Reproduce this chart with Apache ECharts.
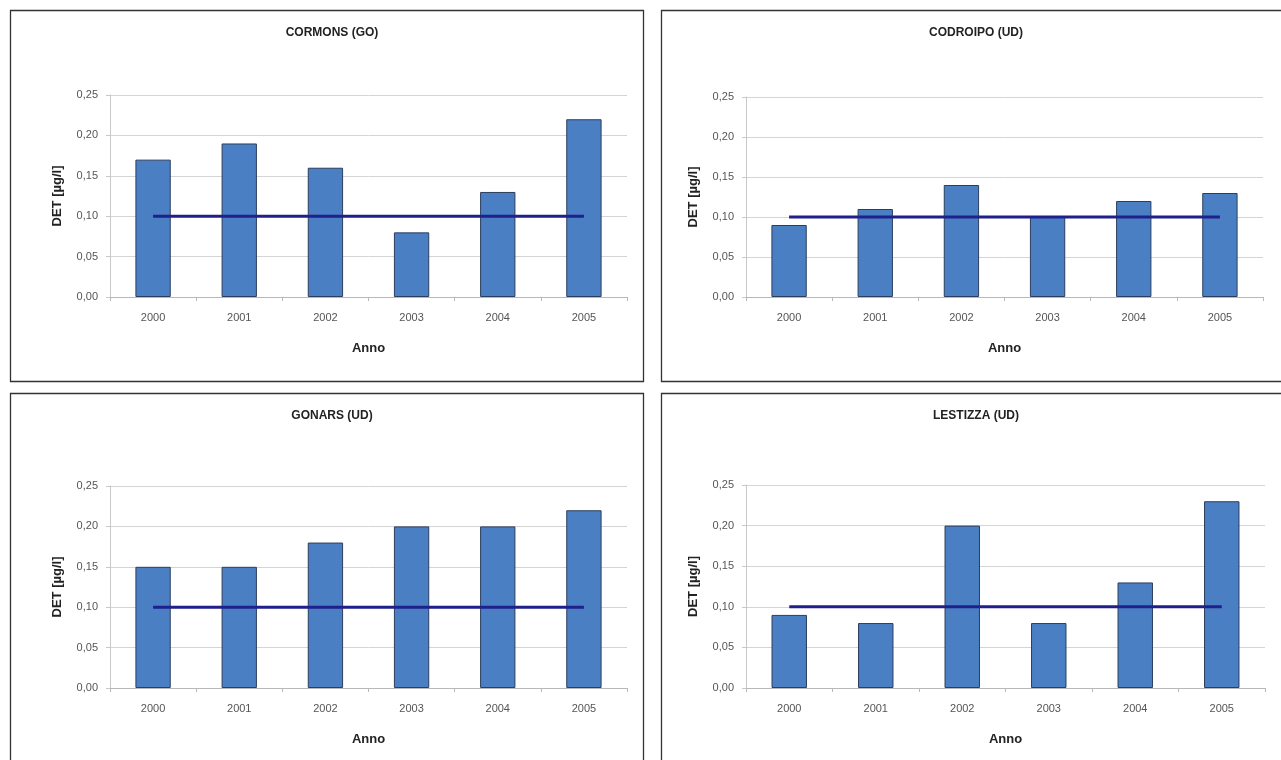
<!doctype html>
<html>
<head>
<meta charset="utf-8">
<title>DET - concentrazioni</title>
<script src="https://cdn.jsdelivr.net/npm/echarts@6/dist/echarts.min.js"></script>
<style>
  html, body { margin: 0; padding: 0; background: #fff; }
  #main { width: 1281px; height: 760px; }
</style>
</head>
<body>
<div id="main"></div>
<script>
// dati
var anni = ['2000', '2001', '2002', '2003', '2004', '2005'];
var stazioni = ['CORMONS (GO)', 'CODROIPO (UD)', 'GONARS (UD)', 'LESTIZZA (UD)'];
var cormons  = [0.17, 0.19, 0.16, 0.08, 0.13, 0.22];
var codroipo = [0.09, 0.11, 0.14, 0.10, 0.12, 0.13];
var gonars   = [0.15, 0.15, 0.18, 0.20, 0.20, 0.22];
var lestizza = [0.09, 0.08, 0.20, 0.08, 0.13, 0.23];
var limite   = [0.10, 0.10, 0.10, 0.10, 0.10, 0.10];

var valori = [cormons, codroipo, gonars, lestizza];

// posizione dei pannelli e delle aree di disegno
var pannelli = [
    { x: 10,  y: 10,  w: 633, h: 371 },
    { x: 661, y: 10,  w: 630, h: 371 },
    { x: 10,  y: 393, w: 633, h: 380 },
    { x: 661, y: 393, w: 630, h: 380 }
];
var aree = [
    { left: 110, top: 95,  width: 517, height: 202 },
    { left: 746, top: 97,  width: 517, height: 200 },
    { left: 110, top: 486, width: 517, height: 202 },
    { left: 746, top: 485, width: 519, height: 203 }
];
var centriTitolo = [327, 971, 327, 971];

var font = 'Liberation Sans, Arial, sans-serif';

var myChart = echarts.init(document.getElementById('main'));

var title = [], grid = [], xAxis = [], yAxis = [], series = [], graphic = [];

for (var i = 0; i < 4; i++) {
    var p = pannelli[i];
    graphic.push({
        type: 'rect',
        shape: { x: p.x + 0.5, y: p.y + 0.5, width: p.w, height: p.h },
        style: { fill: 'none', stroke: '#333', lineWidth: 1.3 },
        silent: true
    });
    title.push({
        text: stazioni[i],
        left: centriTitolo[i],
        top: p.y + 12,
        textAlign: 'center',
        textStyle: { fontFamily: font, fontSize: 12, fontWeight: 'bold', color: '#222' }
    });
    grid.push(aree[i]);
    xAxis.push({
        type: 'category',
        gridIndex: i,
        data: anni,
        name: 'Anno',
        nameLocation: 'middle',
        nameGap: 45,
        nameTextStyle: { fontFamily: font, fontSize: 13, fontWeight: 'bold', color: '#222' },
        axisLine: { lineStyle: { color: '#b8b8b8' } },
        axisTick: { show: true, length: 4, lineStyle: { color: '#b8b8b8' } },
        axisLabel: { fontFamily: font, fontSize: 11, color: '#555', margin: 15 }
    });
    yAxis.push({
        type: 'value',
        gridIndex: i,
        min: 0,
        max: 0.25,
        interval: 0.05,
        name: 'DET [µg/l]',
        nameLocation: 'middle',
        nameGap: 46,
        nameRotate: 90,
        nameTextStyle: { fontFamily: font, fontSize: 13, fontWeight: 'bold', color: '#222' },
        axisLine: { show: true, lineStyle: { color: '#c8c8c8' } },
        axisTick: { show: true, length: 4, lineStyle: { color: '#c8c8c8' } },
        splitLine: { lineStyle: { color: '#d4d4d4' } },
        axisLabel: {
            fontFamily: font, fontSize: 11, color: '#555', margin: 12,
            formatter: function (v) { return v.toFixed(2).replace('.', ','); }
        }
    });
    series.push({
        type: 'bar',
        xAxisIndex: i,
        yAxisIndex: i,
        data: valori[i],
        barWidth: '41%',
        itemStyle: { color: '#4a7fc4', borderColor: '#2c3e5e', borderWidth: 1 },
        z: 2
    });
    series.push({
        type: 'line',
        xAxisIndex: i,
        yAxisIndex: i,
        data: limite,
        symbol: 'none',
        lineStyle: { color: '#20208c', width: 3 },
        z: 3
    });
}

var option = {
    animation: false,
    backgroundColor: '#fff',
    title: title,
    grid: grid,
    xAxis: xAxis,
    yAxis: yAxis,
    series: series,
    graphic: graphic
};

myChart.setOption(option);
</script>
</body>
</html>
